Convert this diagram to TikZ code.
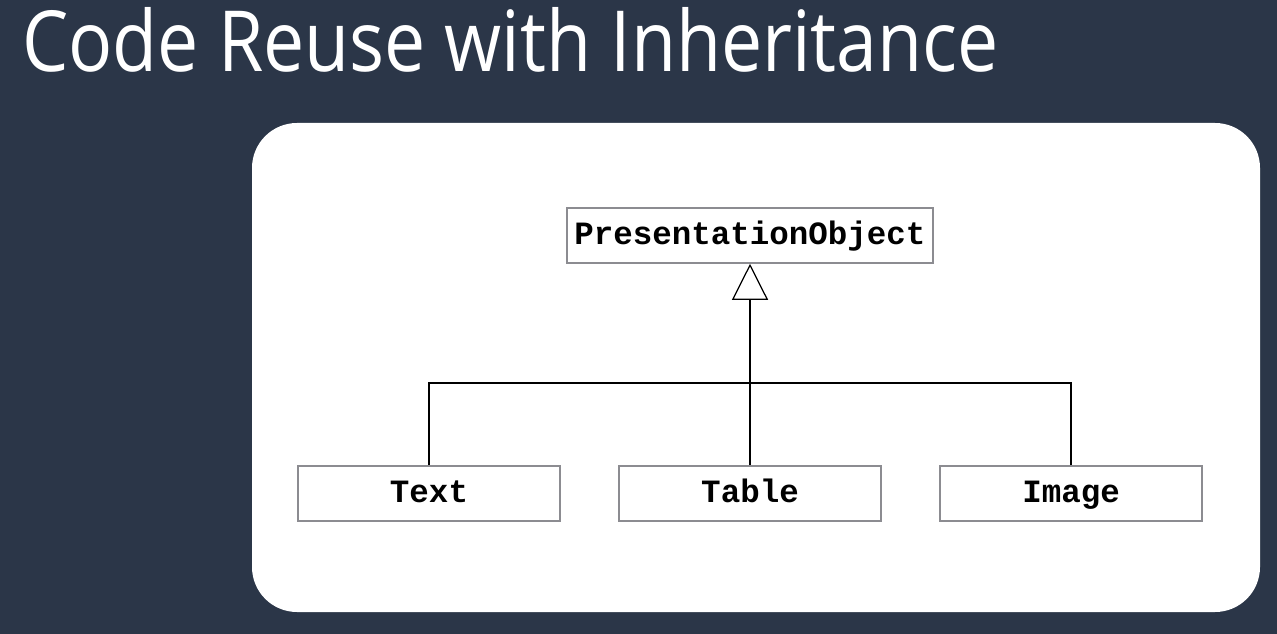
\documentclass[tikz,border=0pt]{standalone}
\usepackage{fontspec}
\usepackage{tikz}
\usepackage{xcolor}
\usetikzlibrary{positioning,arrows.meta,calc}
\setmainfont{Open Sans}
\newfontfamily\titlefont[FakeStretch=0.87]{Open Sans}
\newfontfamily\umlfont{Liberation Mono}
\definecolor{slidebg}{RGB}{43,54,72}
\definecolor{boxgray}{RGB}{140,140,145}
\tikzset{
    cls/.style={
        rectangle,
        draw=boxgray,
        fill=white,
        line width=0.9pt,
        minimum width=5.24cm,
        minimum height=1.1cm,
        inner sep=2pt,
        text height=2.1ex,
        text depth=0.25ex,
        font=\umlfont\bfseries\fontsize{18.5}{20}\selectfont
    },
    inh/.style={line width=0.85pt,black},
    inharr/.style={inh,-{Triangle[open,fill=white,length=0.72cm,width=0.72cm,line width=0.7pt]}}
}

\begin{document}
\begin{tikzpicture}[x=0.02cm,y=-0.02cm]
% slide background and white panel
\fill[slidebg] (0,0) rectangle (1277,634);
\useasboundingbox (0,0) rectangle (1277,634);
\fill[white,rounded corners=0.9cm] (252,123) rectangle (1260,612);
\node[anchor=base west,text=white,inner sep=0pt,font=\titlefont\fontsize{48}{54}\selectfont] (title) at (22,72) {Code Reuse with Inheritance};
% classes
\node[cls,minimum width=7.32cm] (po) at (750,235.5) {PresentationObject};
\node[cls] (tbl) at (750,493.5) {Table};
\node[cls] (txt) at (429,493.5) {Text};
\node[cls] (img) at (1071,493.5) {Image};
\coordinate (joint) at (750,383);
% generalisation tree
\draw[inh] (txt.north) |- (joint);
\draw[inh] (img.north) |- (joint);
\draw[inharr] (tbl.north) -- (po.south);
\end{tikzpicture}
\end{document}
